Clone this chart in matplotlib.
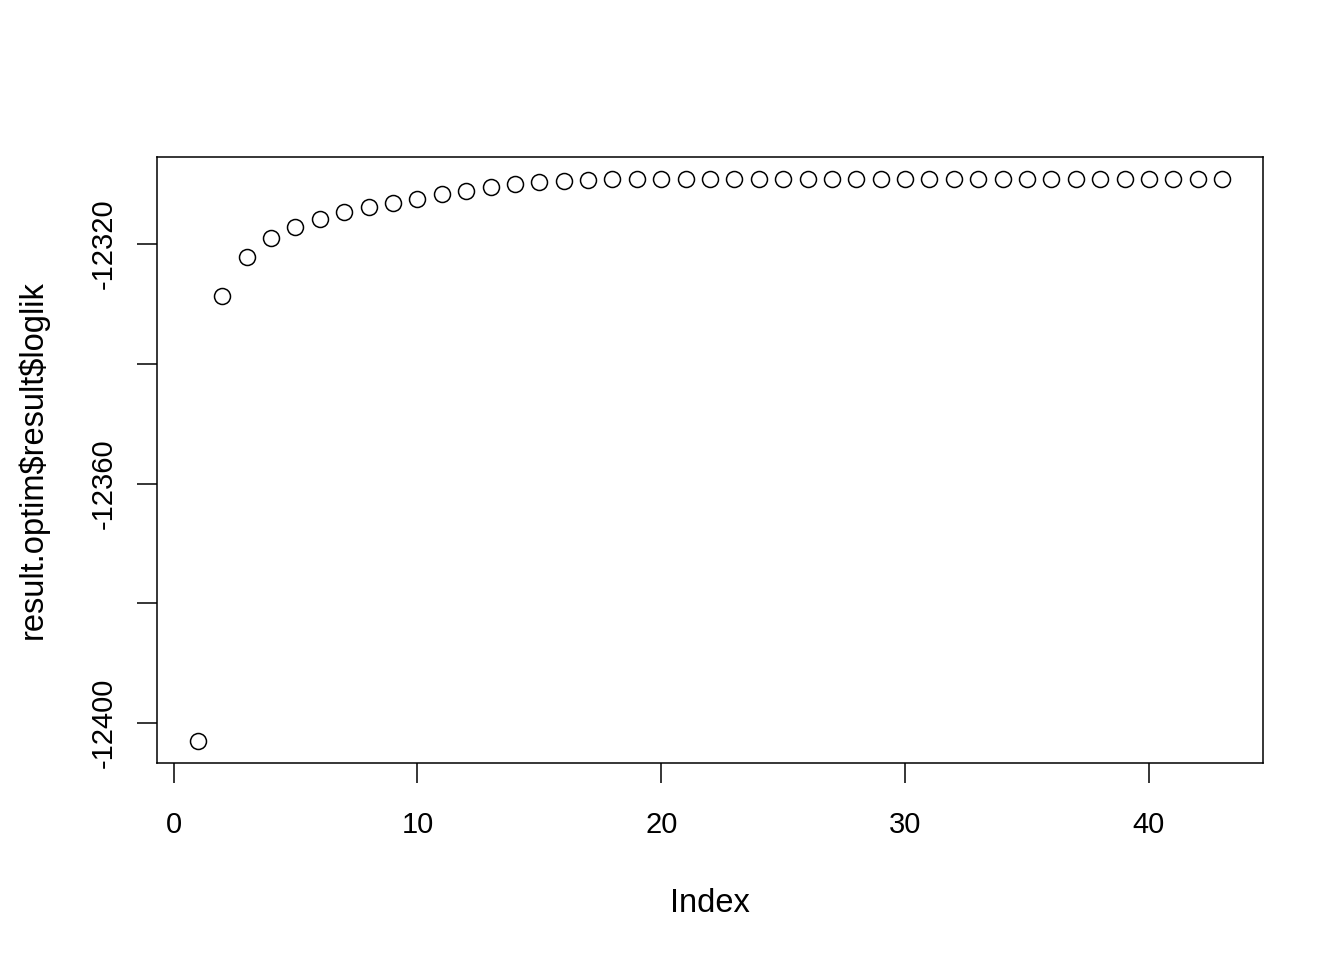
import numpy as np
import matplotlib
matplotlib.use("Agg")
import matplotlib.pyplot as plt

# log-likelihood per optim iteration
loglik = [-12402.9, -12328.6, -12322.1, -12319.0, -12317.2, -12315.8, -12314.7,
          -12313.8, -12313.1, -12312.5, -12311.7, -12311.1, -12310.5, -12310.0,
          -12309.6, -12309.4, -12309.3, -12309.2, -12309.2, -12309.2, -12309.2,
          -12309.2, -12309.2, -12309.2, -12309.2, -12309.2, -12309.2, -12309.2,
          -12309.2, -12309.2, -12309.2, -12309.2, -12309.2, -12309.2, -12309.2,
          -12309.2, -12309.2, -12309.2, -12309.2, -12309.2, -12309.2, -12309.2,
          -12309.2]
index = np.arange(1, len(loglik) + 1)

x_ticks = [0, 10, 20, 30, 40]
y_ticks = [-12400, -12380, -12360, -12340, -12320]
y_labels = ["-12400", "", "-12360", "", "-12320"]

plt.rcParams['font.family'] = ['Liberation Sans', 'DejaVu Sans']

W, H = 1344, 960
fig = plt.figure(figsize=(W / 100, H / 100), dpi=100)
ax = fig.add_axes([157 / W, 1 - 763 / H, (1263 - 157) / W, (763 - 157) / H])

ax.plot(index, loglik, linestyle='none', marker='o', markersize=11.5,
        markerfacecolor='none', markeredgecolor='black', markeredgewidth=1.1)

# R pads the data range by 4% on each side
def pad(lo, hi):
    d = (hi - lo) * 0.04
    return lo - d, hi + d

ax.set_xlim(*pad(min(index), max(index)))
ax.set_ylim(*pad(min(loglik), max(loglik)))

ax.set_xticks(x_ticks)
ax.set_xticklabels([str(t) for t in x_ticks])
ax.set_yticks(y_ticks)
ax.set_yticklabels(y_labels, rotation=90, va='center')

for s in ax.spines.values():
    s.set_linewidth(1.1)
ax.tick_params(axis='both', length=14.4, width=1.1, labelsize=21, direction='out')
ax.tick_params(axis='x', pad=20)
ax.tick_params(axis='y', pad=14)

fig.text(710 / W, 1 - 903 / H, "Index", fontsize=23.5, ha='center', va='center')
fig.text(33 / W, 1 - 460 / H, r"result.optim\$result\$loglik", fontsize=23.5,
         ha='center', va='center', rotation=90)

fig.savefig("out.png", dpi=100)
